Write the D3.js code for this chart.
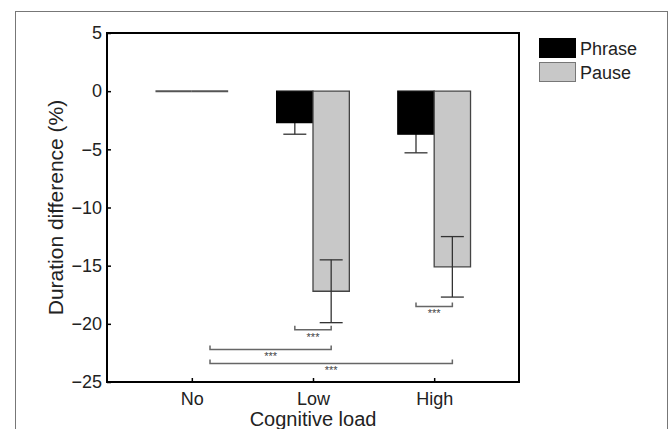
<!DOCTYPE html>
<html lang="en">
<head>
<meta charset="UTF-8" />
<title>Duration difference by cognitive load</title>
<script src="https://d3js.org/d3.v7.min.js"></script>
<style>
  body { margin: 0; background: #fff; }
  svg { display: block; font-family: "Liberation Sans", Arial, sans-serif; }
</style>
</head>
<body>
<svg id="chart" width="670" height="429"></svg>
<script>
  // data
  const categories = ["No", "Low", "High"];
  const series = ["Phrase", "Pause"];
  const phrase = [0, -2.7, -3.7];
  const pause = [0, -17.2, -15.1];
  const phraseErr = [0, 1.0, 1.6];
  const pauseErr = [0, 2.7, 2.6];
  const yTicks = [5, 0, -5, -10, -15, -20, -25];
  // significance brackets: [category, series] -> [category, series], level (%)
  const brackets = [
    { from: ["Low", "Phrase"], to: ["Low", "Pause"], y: -20.5, label: "***" },
    { from: ["High", "Phrase"], to: ["High", "Pause"], y: -18.5, label: "***" },
    { from: ["No", "Pause"], to: ["Low", "Pause"], y: -22.2, label: "***" },
    { from: ["No", "Pause"], to: ["High", "Pause"], y: -23.4, label: "***" }
  ];

  const colors = { Phrase: "#000000", Pause: "#c8c8c8" };
  const strokes = { Phrase: "#000000", Pause: "#444444" };

  const svg = d3.select("#chart");
  const pLeft = 107, pRight = 519, pTop = 33, pBottom = 382;

  // outer frame of the figure
  svg.append("rect")
    .attr("x", 15.5).attr("y", 11.5)
    .attr("width", 652).attr("height", 440)
    .attr("fill", "none").attr("stroke", "#777").attr("stroke-width", 1);

  const x = d3.scaleLinear().domain([0.3, 3.7]).range([pLeft, pRight]);
  const y = d3.scaleLinear().domain([-25, 5]).range([pBottom, pTop]);
  const barW = 0.3;

  // bar centre for a category/series pair
  function cx(cat, s) {
    const i = categories.indexOf(cat) + 1;
    return s === "Phrase" ? x(i - barW / 2) : x(i + barW / 2);
  }

  const rows = [];
  categories.forEach((c, i) => {
    rows.push({ cat: c, s: "Phrase", v: phrase[i], e: phraseErr[i], x0: i + 1 - barW, x1: i + 1 });
    rows.push({ cat: c, s: "Pause", v: pause[i], e: pauseErr[i], x0: i + 1, x1: i + 1 + barW });
  });

  // error bars; phrase ones sit under the black bars, pause ones on top
  const capW = 11.5;
  function errorBars(g, list) {
    list.filter(d => d.e > 0).forEach(d => {
      const xc = (x(d.x0) + x(d.x1)) / 2;
      const y1 = y(d.v + d.e), y2 = y(d.v - d.e);
      g.append("line").attr("x1", xc).attr("x2", xc).attr("y1", y1).attr("y2", y2);
      g.append("line").attr("x1", xc - capW).attr("x2", xc + capW).attr("y1", y1).attr("y2", y1);
      g.append("line").attr("x1", xc - capW).attr("x2", xc + capW).attr("y1", y2).attr("y2", y2);
    });
  }
  const ebUnder = svg.append("g").attr("stroke", "#333").attr("stroke-width", 1.3).attr("fill", "none");
  errorBars(ebUnder, rows.filter(d => d.s === "Phrase"));

  // bars as paths so zero-height bars still show as a line
  svg.append("g").selectAll("path")
    .data(rows)
    .join("path")
    .attr("d", d => {
      const p = d3.path();
      p.moveTo(x(d.x0), y(0));
      p.lineTo(x(d.x1), y(0));
      p.lineTo(x(d.x1), y(d.v));
      p.lineTo(x(d.x0), y(d.v));
      p.closePath();
      return p.toString();
    })
    .attr("fill", d => colors[d.s])
    .attr("stroke", d => d.v === 0 ? "#555" : strokes[d.s])
    .attr("stroke-width", d => d.v === 0 ? 2 : 1.3);

  const ebOver = svg.append("g").attr("stroke", "#333").attr("stroke-width", 1.3).attr("fill", "none");
  errorBars(ebOver, rows.filter(d => d.s === "Pause"));

  // significance brackets
  const bg = svg.append("g");
  brackets.forEach(b => {
    const xa = cx(b.from[0], b.from[1]), xb = cx(b.to[0], b.to[1]);
    const yb = y(b.y);
    bg.append("path")
      .attr("d", `M${xa},${yb - 4}V${yb}H${xb}V${yb - 4}`)
      .attr("fill", "none").attr("stroke", "#666").attr("stroke-width", 1.5);
    bg.append("text")
      .attr("x", (xa + xb) / 2).attr("y", yb + 11)
      .attr("text-anchor", "middle")
      .attr("font-size", 11).attr("fill", "#444")
      .text(b.label);
  });

  // axes with inward ticks (MATLAB style)
  const fmt = d => d < 0 ? "\u2212" + Math.abs(d) : String(d);
  const yAxis = svg.append("g")
    .attr("transform", `translate(${pLeft},0)`)
    .call(d3.axisLeft(y).tickValues(yTicks).tickFormat(fmt).tickSize(-4).tickPadding(5));
  const xAxis = svg.append("g")
    .attr("transform", `translate(0,${pBottom})`)
    .call(d3.axisBottom(x).tickValues([1, 2, 3]).tickFormat(d => categories[d - 1]).tickSize(-4).tickPadding(10));
  [yAxis, xAxis].forEach(a => {
    a.select(".domain").remove();
    a.selectAll(".tick line").attr("stroke", "#000").attr("stroke-width", 1.5);
    a.selectAll(".tick text").attr("font-size", 18).attr("fill", "#222")
      .attr("font-family", "'Liberation Sans', Arial, sans-serif");
  });

  // plot box
  svg.append("rect")
    .attr("x", pLeft).attr("y", pTop)
    .attr("width", pRight - pLeft).attr("height", pBottom - pTop)
    .attr("fill", "none").attr("stroke", "#000").attr("stroke-width", 2);

  // axis titles
  svg.append("text")
    .attr("x", (pLeft + pRight) / 2).attr("y", 426)
    .attr("text-anchor", "middle").attr("font-size", 20).attr("fill", "#222")
    .text("Cognitive load");
  svg.append("text")
    .attr("transform", `translate(63,${(pTop + pBottom) / 2}) rotate(-90)`)
    .attr("text-anchor", "middle").attr("font-size", 21).attr("fill", "#222")
    .text("Duration difference (%)");

  // legend
  const lg = svg.append("g").attr("transform", "translate(539,38)");
  series.forEach((s, i) => {
    const g = lg.append("g").attr("transform", `translate(0,${i * 24})`);
    g.append("rect").attr("x", 0.5).attr("y", 0.5).attr("width", 36).attr("height", 19)
      .attr("fill", colors[s]).attr("stroke", s === "Pause" ? "#777" : "#000");
    g.append("text").attr("x", 41).attr("y", 17).attr("font-size", 18).attr("fill", "#222").text(s);
  });
</script>
</body>
</html>
